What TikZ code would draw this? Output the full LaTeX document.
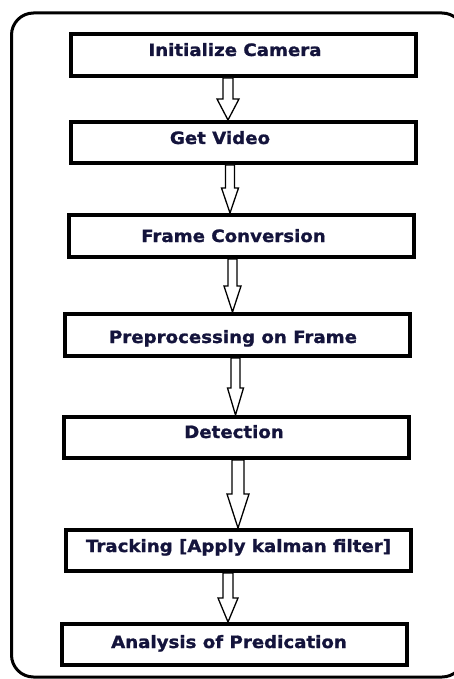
\documentclass[tikz,border=0pt]{standalone}
\usepackage{fontspec}
\usetikzlibrary{calc}
\newfontfamily\lblfont[FakeStretch=1.07,FakeBold=1.2]{DejaVu Sans Bold}
\definecolor{txtcol}{RGB}{20,20,60}
\newcommand\blockarrow[6]{%
  \draw[arrowline] let \p1=(#1.south), \p2=(#2.north) in
    ({\x1+(#3)-(#4)},{\y1}) -- ({\x1+(#3)-(#4)},{\y2+(#6)}) --
    ({\x1+(#3)-(#5)},{\y2+(#6)}) -- ({\x1+(#3)},{\y2}) --
    ({\x1+(#3)+(#5)},{\y2+(#6)}) -- ({\x1+(#3)+(#4)},{\y2+(#6)}) --
    ({\x1+(#3)+(#4)},{\y1}) -- cycle;
}
\tikzset{
  stepbox/.style={draw=black, line width=4pt, fill=white, minimum width=345pt,
    minimum height=42pt, inner sep=0pt},
  steptext/.style={anchor=base, inner sep=0pt, text=txtcol,
    font=\lblfont\fontsize{17pt}{19pt}\selectfont},
  arrowline/.style={draw=black, line width=1.3pt, fill=white, line join=miter},
  frameline/.style={draw=black, line width=3pt, rounded corners=22pt}
}
\begin{document}
\begin{tikzpicture}[x=1pt,y=-1pt]
\useasboundingbox (0,0) rectangle (454,679);
\fill[white] (0,0) rectangle (454,679);
\draw[frameline] (11.5,13) rectangle (464,677);

\node[stepbox, minimum height=42pt] (b1) at (243.5,55) {};
\node[stepbox, minimum height=41pt] (b2) at (243,142.5) {};
\node[stepbox, minimum height=42pt] (b3) at (241,236) {};
\node[stepbox, minimum height=42pt] (b4) at (237.5,335) {};
\node[stepbox, minimum height=41pt] (b5) at (236.5,437.5) {};
\node[stepbox, minimum height=41pt] (b6) at (238.5,550.5) {};
\node[stepbox, minimum height=41pt] (b7) at (234.5,644.5) {};

\node[steptext] (t1) at (235,56) {Initialize Camera};
\node[steptext] (t2) at (220,144) {Get Video};
\node[steptext] (t3) at (233.5,242) {Frame Conversion};
\node[steptext] (t4) at (233,343) {Preprocessing on Frame};
\node[steptext] (t5) at (234,438) {Detection};
\node[steptext] (t6) at (238.5,552) {Tracking [Apply kalman filter]};
\node[steptext] (t7) at (229,648) {Analysis of Predication};

\blockarrow{b1}{b2}{-15.5pt}{5pt}{11pt}{21pt}
\blockarrow{b2}{b3}{-13pt}{4.5pt}{8.5pt}{25pt}
\blockarrow{b3}{b4}{-8.5pt}{4.5pt}{8.5pt}{26pt}
\blockarrow{b4}{b5}{-2pt}{4.5pt}{8pt}{27pt}
\blockarrow{b5}{b6}{1.5pt}{6pt}{11pt}{34pt}
\blockarrow{b6}{b7}{-10.5pt}{5pt}{10pt}{24pt}
\end{tikzpicture}
\end{document}
